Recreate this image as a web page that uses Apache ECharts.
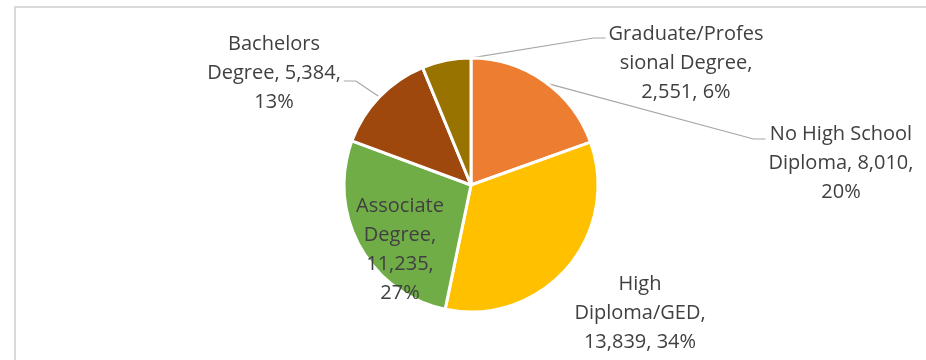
<!DOCTYPE html>
<html>
<head>
<meta charset="utf-8">
<script src="https://cdn.jsdelivr.net/npm/echarts@6/dist/echarts.min.js"></script>
<style>
  html, body { margin: 0; padding: 0; background: #fff; }
  #chart { width: 926px; height: 360px; }
</style>
</head>
<body>
<div id="chart"></div>
<script>
const categories = ['No High School Diploma', 'High Diploma/GED', 'Associate Degree', 'Bachelors Degree', 'Graduate/Professional Degree'];
const counts = [8010, 13839, 11235, 5384, 2551];
const colors = ['#ED7D31', '#FFC000', '#70AD47', '#9E480E', '#997300'];

const CX = 471, CY = 185, R = 127;

// where each label block sits (centre), wrap width in chars, leader attach offset
const labelSpots = [
  { x: 841, y: 163, chars: 15, attach: -24 },
  { x: 640, y: 313, chars: 12 },
  { x: 400, y: 250, chars: 9 },
  { x: 274, y: 73, chars: 14, attach: 8 },
  { x: 686, y: 63, chars: 15, attach: -25 }
];

// excel-ish word wrap, long words get cut
function wrap(text, max) {
  let lines = [], cur = '';
  text.split(' ').forEach(word => {
    let w = word;
    if (cur && (cur + ' ' + w).length <= max) { cur += ' ' + w; return; }
    if (cur) lines.push(cur);
    while (w.length > max) { lines.push(w.slice(0, max)); w = w.slice(max); }
    cur = w;
  });
  if (cur) lines.push(cur);
  return lines.join('\n');
}

// point on the outer edge at the middle of slice i (clockwise from 12 o'clock)
function edgePoint(i) {
  const total = counts.reduce((a, b) => a + b, 0);
  let before = 0;
  for (let k = 0; k < i; k++) before += counts[k];
  const a = (before + counts[i] / 2) / total * Math.PI * 2;
  const r = R - 1.5;
  return [CX + r * Math.sin(a), CY - r * Math.cos(a)];
}

let chart = echarts.init(document.getElementById('chart'));
chart.setOption({
  animation: false,
  graphic: [{
    type: 'rect',
    silent: true,
    shape: { x: 15, y: 7, width: 1000, height: 1000 },
    style: { fill: 'none', stroke: '#D9D9D9', lineWidth: 2 }
  }],
  series: [{
    type: 'pie',
    center: [CX, CY],
    radius: R,
    startAngle: 90,
    clockwise: true,
    percentPrecision: 0,
    emphasis: { disabled: true },
    itemStyle: { borderColor: '#fff', borderWidth: 3 },
    label: {
      show: true,
      position: 'outside',
      fontFamily: 'Open Sans',
      fontSize: 20,
      lineHeight: 29,
      color: '#404040',
      align: 'center',
      formatter: p => wrap(p.name + ', ' + p.value.toLocaleString('en-US') + ', ' + p.percent + '%', labelSpots[p.dataIndex].chars)
    },
    labelLine: { show: true, lineStyle: { color: '#A6A6A6', width: 1.2 } },
    labelLayout: function (params) {
      const s = labelSpots[params.dataIndex];
      const w = params.labelRect.width;
      const out = { x: s.x, y: s.y, align: 'center', verticalAlign: 'middle' };
      if (s.attach != null) {
        const p0 = edgePoint(params.dataIndex);
        const onRight = s.x > p0[0];
        const ex = onRight ? s.x - w / 2 - 3 : s.x + w / 2 + 3;
        const ey = s.y + s.attach;
        out.labelLinePoints = [p0, [onRight ? ex - 12 : ex + 12, ey], [ex, ey]];
      }
      return out;
    },
    data: categories.map((name, i) => ({
      name: name,
      value: counts[i],
      itemStyle: { color: colors[i] },
      labelLine: { show: labelSpots[i].attach != null }
    }))
  }]
});
</script>
</body>
</html>
